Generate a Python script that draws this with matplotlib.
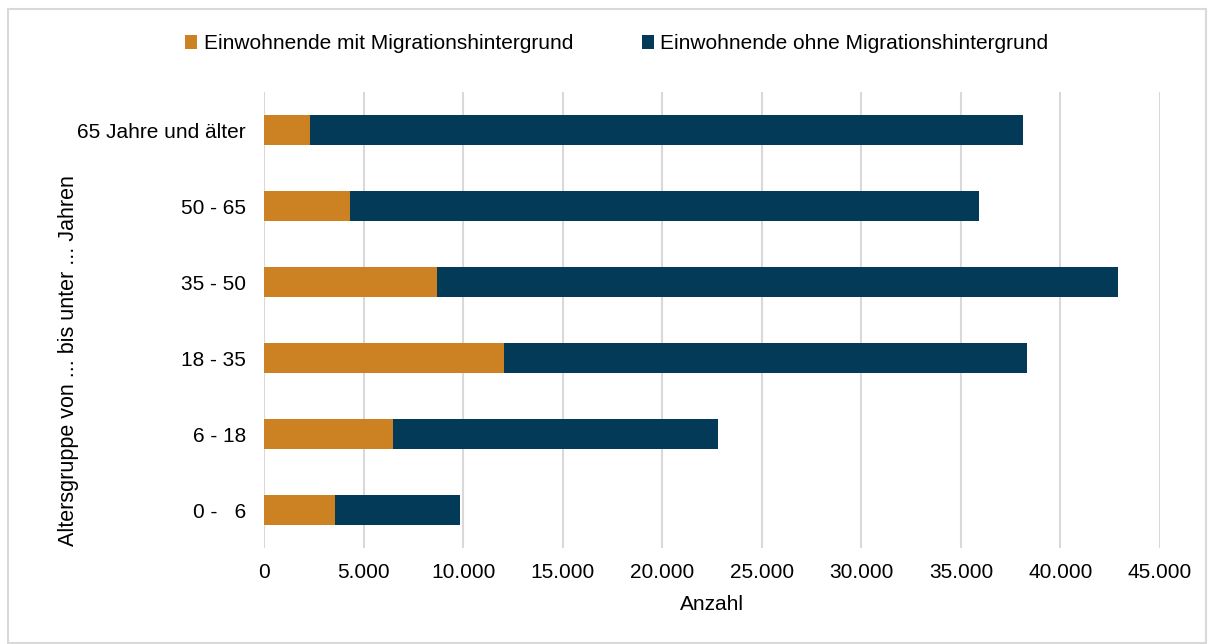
import matplotlib
matplotlib.use("Agg")
from matplotlib import pyplot as plt
from matplotlib.patches import Rectangle
from matplotlib.ticker import FuncFormatter

plt.rcParams['font.family'] = ['Liberation Sans', 'DejaVu Sans']

altersgruppen = ["0 -   6", "6 - 18", "18 - 35", "35 - 50", "50 - 65", "65 Jahre und älter"]
mit_migration = [3550, 6500, 12050, 8700, 4330, 2300]
ohne_migration = [6270, 16320, 26250, 34190, 31600, 35800]

orange = "#CC8222"
navy = "#023A57"

fig = plt.figure(figsize=(12.14, 6.44), dpi=100)
ax = fig.add_axes([264 / 1214, 1 - 548 / 644, (1160 - 264) / 1214, (548 - 92) / 644])

pos = range(len(altersgruppen))
ax.barh(pos, mit_migration, height=0.4, color=orange, label="Einwohnende mit Migrationshintergrund", zorder=3)
ax.barh(pos, ohne_migration, left=mit_migration, height=0.4, color=navy,
        label="Einwohnende ohne Migrationshintergrund", zorder=3)

ax.set_xlim(0, 45000)
ax.set_ylim(-0.5, 5.5)
ax.set_xticks(range(0, 45001, 5000))
ax.xaxis.set_major_formatter(FuncFormatter(lambda v, p: f"{int(v):,}".replace(",", ".")))
ax.set_yticks(list(pos))
ax.set_yticklabels(altersgruppen)
ax.tick_params(axis="both", length=0, labelsize=15, colors="#000000")
ax.tick_params(axis="y", pad=13)
ax.tick_params(axis="x", pad=11)
ax.grid(axis="x", color="#d9d9d9", linewidth=1.5, zorder=0)
for s in ax.spines.values():
    s.set_visible(False)

ax.set_xlabel("Anzahl", fontsize=15, labelpad=9)
ax.set_ylabel("Altersgruppe von ... bis unter ... Jahren", fontsize=15.5)
ax.yaxis.set_label_coords(-0.206, 0.412)

fig.legend(loc="center", bbox_to_anchor=(0.508, 0.932), ncol=2, frameon=False, fontsize=15,
           handlelength=0.6, handleheight=0.6, handletextpad=0.3, columnspacing=3.3)

fig.patches.append(Rectangle((8 / 1214, 0.002), 1 - 16 / 1214, 1 - 10 / 644, transform=fig.transFigure,
                             fill=False, edgecolor="#d9d9d9", linewidth=1.5))

fig.savefig("out.png", dpi=100)
